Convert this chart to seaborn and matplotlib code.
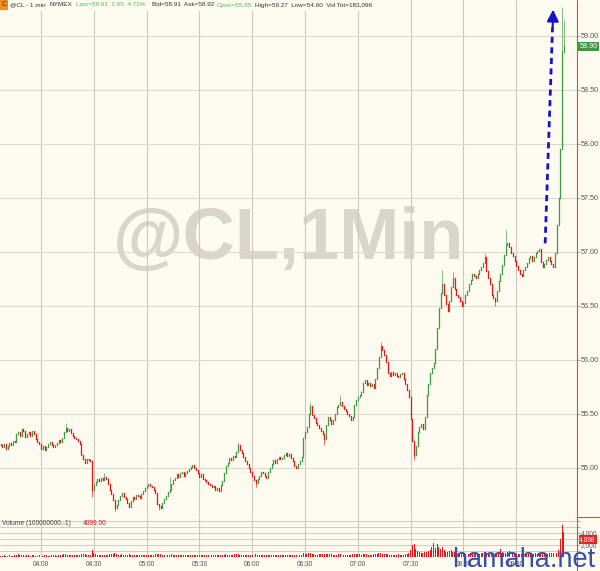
import numpy as np
import pandas as pd
import matplotlib
matplotlib.use("Agg")
import matplotlib.pyplot as plt
import seaborn as sns
from matplotlib.patches import Rectangle
from matplotlib.lines import Line2D

sns.set_style("white")
plt.rcParams['font.family'] = ['Liberation Sans', 'DejaVu Sans']

# minutes counted from 04:00, first bar is 03:37
start_minute = -23
first_open = 55.22

# closing prices, one per minute
closes = [
    # 03:37 - 03:59
    55.21, 55.19, 55.22, 55.18, 55.20, 55.23, 55.21, 55.25, 55.24, 55.31,
    55.33, 55.30, 55.36, 55.34, 55.29, 55.31, 55.33, 55.30, 55.34, 55.31,
    55.27, 55.24, 55.22,
    # 04:00
    55.18, 55.20, 55.17, 55.19, 55.22, 55.24, 55.21, 55.19, 55.21, 55.23,
    55.26, 55.24, 55.28, 55.33, 55.37, 55.34, 55.36, 55.32, 55.30, 55.28,
    55.27, 55.25, 55.22, 55.12, 55.08, 55.05, 55.08, 55.07, 55.06, 54.80,
    # 04:30
    54.84, 54.87, 54.90, 54.88, 54.91, 54.89, 54.92, 54.90, 54.85, 54.80,
    54.76, 54.70, 54.63, 54.66, 54.70, 54.74, 54.77, 54.73, 54.71, 54.68,
    54.64, 54.69, 54.73, 54.71, 54.75, 54.74, 54.72, 54.76, 54.79, 54.81,
    # 05:00
    54.83, 54.85, 54.83, 54.82, 54.80, 54.77, 54.67, 54.65, 54.63, 54.68,
    54.71, 54.74, 54.78, 54.80, 54.85, 54.89, 54.91, 54.94, 54.92, 54.95,
    54.96, 54.93, 54.95, 54.97, 54.99, 55.01, 55.03, 55.00, 54.98, 54.95,
    # 05:30
    54.92, 54.94, 54.90, 54.89, 54.87, 54.85, 54.84, 54.82, 54.83, 54.80,
    54.81, 54.79, 54.84, 54.88, 54.95, 55.02, 55.05, 55.09, 55.07, 55.11,
    55.10, 55.15, 55.21, 55.17, 55.14, 55.10, 55.06, 55.04, 55.00, 54.96,
    # 06:00
    54.93, 54.89, 54.86, 54.90, 54.93, 54.96, 54.95, 54.93, 54.91, 54.96,
    55.00, 55.04, 55.07, 55.05, 55.08, 55.10, 55.08, 55.09, 55.12, 55.14,
    55.11, 55.13, 55.09, 55.06, 55.02, 55.00, 55.04, 55.06, 55.10, 55.28,
    # 06:30
    55.33, 55.38, 55.50, 55.57, 55.49, 55.46, 55.42, 55.40, 55.37, 55.34,
    55.31, 55.27, 55.40, 55.47, 55.44, 55.41, 55.44, 55.50, 55.56, 55.58,
    55.61, 55.57, 55.55, 55.53, 55.50, 55.48, 55.44, 55.47, 55.58, 55.63,
    # 07:00
    55.66, 55.68, 55.70, 55.79, 55.81, 55.77, 55.79, 55.76, 55.78, 55.74,
    55.82, 55.93, 56.03, 56.13, 56.09, 56.05, 55.98, 55.88, 55.85, 55.89,
    55.86, 55.88, 55.85, 55.84, 55.87, 55.88, 55.82, 55.78, 55.72, 55.66,
    # 07:30
    55.45, 55.25, 55.12, 55.20, 55.33, 55.38, 55.41, 55.36, 55.47, 55.68,
    55.78, 55.88, 55.93, 55.97, 56.10, 56.30, 56.48, 56.62, 56.70, 56.60,
    56.52, 56.45, 56.55, 56.68, 56.76, 56.66, 56.60, 56.58, 56.55, 56.50,
    # 08:00
    56.53, 56.60, 56.64, 56.70, 56.74, 56.80, 56.78, 56.76, 56.80, 56.83,
    56.86, 56.90, 56.95, 56.82, 56.76, 56.70, 56.60, 56.57, 56.55, 56.64,
    56.73, 56.80, 56.88, 56.97, 57.06, 57.08, 57.05, 56.99, 56.96, 56.92,
    # 08:30 - 08:57
    56.87, 56.83, 56.80, 56.78, 56.83, 56.86, 56.90, 56.94, 56.96, 56.92,
    56.95, 56.99, 57.01, 57.03, 56.91, 56.86, 56.89, 56.93, 56.95, 56.92,
    56.89, 56.86, 56.99, 57.25, 57.50, 57.95, 58.85, 58.91,
]

# wicks that stick out of the bodies (minute -> price)
spike_high = {14: 55.42, 36: 54.95, 73: 54.92, 112: 55.24, 153: 55.61,
              170: 55.68, 193: 56.17, 228: 56.83, 234: 56.81, 252: 56.99,
              264: 57.20, 296: 59.27, 297: 59.15}
spike_low = {29: 54.73, 42: 54.60, 67: 54.61, 122: 54.82, 161: 55.21,
             212: 55.07, 258: 56.50}

volumes = [
    250, 180, 300, 220, 160, 310, 240, 200, 280, 350,
    420, 260, 300, 380, 230, 270, 310, 250, 290, 330,
    240, 210, 300,
    280, 230, 260, 310, 250, 220, 290, 330, 270, 240,
    310, 350, 300, 420, 480, 360, 300, 280, 260, 310,
    290, 340, 380, 520, 460, 420, 300, 280, 350, 1100,
    620, 480, 400, 350, 300, 330, 380, 310, 360, 420,
    450, 520, 610, 480, 400, 360, 420, 330, 300, 380,
    450, 390, 350, 300, 280, 320, 290, 260, 310, 340,
    300, 280, 260, 320, 350, 420, 520, 470, 450, 380,
    330, 300, 350, 400, 430, 380, 330, 300, 280, 320,
    300, 270, 260, 290, 310, 340, 360, 300, 280, 260,
    280, 260, 300, 290, 320, 350, 330, 310, 300, 290,
    280, 320, 360, 400, 380, 420, 390, 350, 330, 400,
    420, 450, 480, 400, 360, 340, 320, 300, 290, 310,
    330, 380, 420, 350, 300, 280, 260, 300, 320, 340,
    360, 380, 350, 330, 300, 320, 340, 310, 300, 330,
    350, 320, 300, 340, 360, 350, 330, 310, 380, 650,
    520, 480, 700, 620, 450, 420, 380, 400, 420, 450,
    480, 500, 560, 520, 460, 420, 400, 380, 400, 430,
    460, 420, 400, 380, 360, 340, 380, 420, 460, 480,
    440, 420, 400, 450, 480, 420, 400, 380, 370, 420,
    480, 560, 640, 700, 560, 500, 460, 420, 400, 380,
    360, 380, 400, 420, 380, 360, 400, 450, 520, 680,
    1200, 2000, 2100, 1400, 1000, 800, 700, 650, 800, 900,
    1000, 1200, 1700, 2400, 1500, 2200, 1700, 1300, 1600, 1200,
    900, 800, 1000, 1100, 900, 800, 700, 650, 600, 560,
    550, 500, 480, 520, 600, 560, 500, 460, 480, 520,
    600, 640, 700, 620, 560, 520, 580, 620, 600, 540,
    900, 1300, 900, 600, 650, 900, 1000, 820, 700, 620,
    560, 520, 480, 500, 520, 560, 540, 500, 480, 520,
    560, 600, 580, 540, 560, 620, 580, 540, 520, 600,
    640, 700, 900, 650, 1200, 3000, 5300, 4099,
]

time_ticks = [0, 30, 60, 90, 120, 150, 180, 210, 240, 270]
time_labels = ["04:00", "04:30", "05:00", "05:30", "06:00",
               "06:30", "07:00", "07:30", "08:00", "08:30"]
price_levels = [55.0, 55.5, 56.0, 56.5, 57.0, 57.5, 58.0, 58.5, 59.0]

df = pd.DataFrame({"minute": np.arange(start_minute, start_minute + len(closes)),
                   "close": closes, "volume": volumes})
df["open"] = df["close"].shift(1).fillna(first_open)
df["high"] = df[["open", "close"]].max(axis=1)
df["low"] = df[["open", "close"]].min(axis=1)
for m, v in spike_high.items():
    df.loc[df.minute == m, "high"] = v
for m, v in spike_low.items():
    df.loc[df.minute == m, "low"] = v
up = df["close"] >= df["open"]

bg = "#fdfaef"
green = "#3f9a3f"
red = "#e01818"
grid_v = "#cdc8bd"
grid_h = "#dedacd"
txt = "#555555"

W, H = 600, 571
fig = plt.figure(figsize=(6, 5.71), dpi=100, facecolor=bg)
ax = fig.add_axes([0, 1 - 517 / H, 577 / W, 517 / H], facecolor=bg)
axv = fig.add_axes([0, 1 - 557 / H, 577 / W, 39 / H], facecolor=bg, sharex=ax)

# watermark
ax.text(0.5, 0.535, "@CL,1Min", transform=ax.transAxes, ha="center", va="center",
        fontsize=52, fontweight="bold", color="#d9d5cb", zorder=0)

# candles
for mask, col in [(up, green), (~up, red)]:
    d = df[mask]
    ax.vlines(d["minute"], d["low"], d["high"], color=col, lw=0.45, zorder=3)
    lc = ax.vlines(d["minute"], d["open"], d["close"], color=col, lw=0.9, zorder=3)
    lc.set_capstyle("projecting")

ax.set_xlim(-23.3, 304.5)
ax.set_ylim(54.546, 59.333)
ax.set_xticks(time_ticks)
ax.set_yticks(price_levels)
ax.set_yticklabels([f"{p:.2f}" for p in price_levels])
ax.yaxis.tick_right()
ax.tick_params(axis="y", direction="out", length=2, width=0.6, color="#999999",
               labelsize=5.2, labelcolor=txt, pad=0.5)
ax.tick_params(axis="x", length=0, labelbottom=False)
ax.grid(axis="x", color=grid_v, lw=0.8)
ax.grid(axis="y", color=grid_h, lw=0.8)
for s in ax.spines.values():
    s.set_visible(False)

# dashed arrow
ax.plot([286.4, 290.6], [57.08, 59.08], ls=(0, (2.2, 1.6)), color="#1414c8", lw=2.0, zorder=5)
ax.annotate("", xy=(291.0, 59.27), xytext=(290.6, 59.05),
            arrowprops=dict(arrowstyle="-|>,head_length=0.7,head_width=0.35",
                            color="#1414c8", lw=1.5), zorder=5)

# last price marker
ax.text(1.004, 58.90, "58.90", transform=ax.get_yaxis_transform(), ha="left", va="center",
        fontsize=5.2, color="white",
        bbox=dict(boxstyle="square,pad=0.15", fc="#3c9a3c", ec="none"), zorder=6)

# volume
sns.histplot(data=df, x="minute", weights="volume", discrete=True, shrink=0.55,
             color=red, alpha=1, linewidth=0, ax=axv, zorder=3)
axv.set_ylim(0, 6500)
axv.set_yticks([1000, 2000, 3000, 4000, 5000, 6000])
axv.set_yticklabels(["", "2,000", "", "4,000", "", ""])
axv.yaxis.tick_right()
axv.set_xticks(time_ticks)
axv.set_xticklabels(time_labels)
axv.set_xlabel("")
axv.set_ylabel("")
axv.tick_params(axis="y", direction="out", length=2, width=0.6, color="#999999",
                labelsize=4.8, labelcolor=txt, pad=0.5)
axv.tick_params(axis="x", length=0, labelsize=4.7, labelcolor=txt, pad=3)
axv.grid(axis="x", color=grid_v, lw=0.8)
axv.grid(axis="y", color="#c9c5ba", lw=0.6)
for s in axv.spines.values():
    s.set_visible(False)
axv.text(0.004, 0.95, "Volume (100000000,-1)", transform=axv.transAxes, ha="left", va="top",
         fontsize=4.8, color="#444444")
axv.text(0.144, 0.95, "4099.00", transform=axv.transAxes, ha="left", va="top",
         fontsize=4.8, color=red)
axv.text(1.004, 2950, "4,098", transform=axv.get_yaxis_transform(), ha="left", va="center",
         fontsize=4.8, color="white",
         bbox=dict(boxstyle="square,pad=0.12", fc="#e02424", ec="none"), zorder=6)

# frame lines on the right
fig.add_artist(Line2D([577 / W, 577 / W], [0, 1], color="#d05050", lw=0.8))
fig.add_artist(Line2D([577 / W, 1], [1 - 517 / H, 1 - 517 / H], color="#d05050", lw=0.8))

# header line
fig.patches.append(Rectangle((0, 1 - 11 / H), 378 / W, 11 / H, transform=fig.transFigure,
                             fc=bg, ec="none", zorder=4))
fig.patches.append(Rectangle((0, 1 - 10 / H), 8 / W, 10 / H, transform=fig.transFigure,
                             fc="#f0901e", ec="none", zorder=5))
fig.text(4 / W, 1 - 5 / H, "C", ha="center", va="center", fontsize=5, color="#4a2a00", zorder=6)
header = [(10, "@CL - 1 min", "#333333"), (50, "NYMEX", "#333333"),
          (76, "Last=58.91  2.65  4.71%", "#55c055"),
          (152, "Bid=58.91  Ask=58.92", "#333333"),
          (217, "Open=55.85", "#55c055"),
          (255, "High=59.27  Low=54.60  Vol Tot=183,096", "#333333")]
for x, s, c in header:
    fig.text(x / W, 1 - 5 / H, s, ha="left", va="center", fontsize=4.6, color=c, zorder=6)

# site watermark
fig.text(452 / W, 1 - 567 / H, "hamaha.net", ha="left", va="baseline", fontsize=19.5,
         color="#3550a8", zorder=7)

fig.savefig("out.png", dpi=100, facecolor=bg)
